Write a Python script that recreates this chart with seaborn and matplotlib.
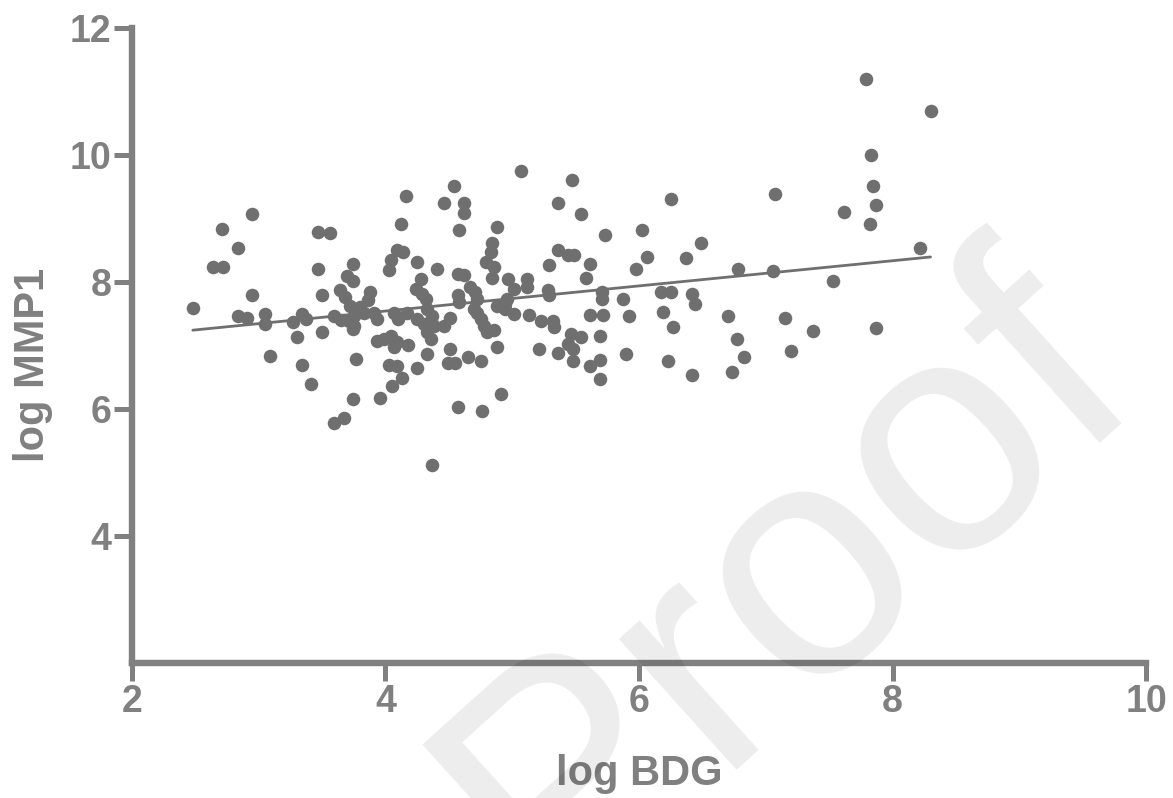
import numpy as np
import pandas as pd
import matplotlib
matplotlib.use("Agg")
import matplotlib.pyplot as plt
from matplotlib import font_manager
import seaborn as sns

# values
bdg = [
    2.48, 2.64, 2.72, 2.71, 2.84, 2.95, 2.95, 2.84, 2.91, 3.05,
    3.05, 3.09, 3.27, 3.30, 3.34, 3.37, 3.34, 3.41, 3.47, 3.56,
    3.47, 3.50, 3.50, 3.59, 3.67, 3.74, 3.77, 3.59, 3.74, 3.70,
    3.74, 3.64, 3.68, 3.88, 3.86, 3.80, 3.83, 3.72, 3.75, 3.71,
    3.75, 3.91, 3.93, 3.65, 3.74, 3.93, 3.99, 4.04, 4.09, 4.07,
    4.18, 4.03, 4.09, 4.25, 4.13, 4.05, 3.96, 4.07, 4.10, 4.17,
    4.25, 4.30, 4.33, 4.16, 4.12, 4.09, 4.14, 4.04, 4.03, 4.25,
    4.41, 4.28, 4.24, 4.29, 4.32, 4.33, 4.37, 4.38, 4.33, 4.36,
    4.54, 4.46, 4.62, 4.62, 4.58, 4.57, 4.62, 4.57, 4.58, 4.51,
    4.46, 4.51, 4.49, 4.55, 4.65, 4.75, 4.57, 4.76, 4.37, 4.67,
    4.71, 4.72, 4.70, 4.72, 4.75, 4.78, 4.80, 4.86, 4.88, 4.91,
    4.88, 4.84, 4.83, 4.79, 4.86, 4.84, 4.97, 5.01, 4.96, 4.88,
    4.94, 4.94, 5.01, 5.07, 5.12, 5.12, 5.13, 5.28, 5.29, 5.23,
    5.32, 5.33, 5.21, 5.36, 5.29, 5.36, 5.44, 5.49, 5.36, 5.47,
    5.54, 5.61, 5.58, 5.73, 5.61, 5.72, 5.71, 5.71, 5.87, 5.92,
    5.44, 5.48, 5.46, 5.54, 5.69, 5.48, 5.61, 5.69, 5.90, 5.69,
    6.02, 6.06, 5.98, 6.25, 6.37, 6.49, 6.17, 6.25, 6.42, 6.44,
    6.19, 6.27, 6.23, 6.42, 6.78, 7.06, 7.07, 7.53, 6.70, 7.15,
    7.37, 6.77, 6.83, 6.73, 7.20, 7.62, 7.79, 7.83, 7.85, 7.87,
    7.82, 8.22, 8.30, 7.87,
]
mmp1 = [
    7.59, 8.24, 8.24, 8.83, 8.54, 9.07, 7.80, 7.46, 7.44, 7.50,
    7.34, 6.83, 7.37, 7.14, 7.50, 7.42, 6.69, 6.40, 8.79, 8.77,
    8.20, 7.80, 7.22, 5.78, 5.86, 6.16, 6.79, 7.47, 8.29, 8.10,
    8.02, 7.87, 7.76, 7.84, 7.71, 7.60, 7.52, 7.63, 7.47, 7.39,
    7.31, 7.52, 7.42, 7.40, 7.26, 7.07, 7.10, 7.15, 7.05, 6.97,
    7.01, 6.70, 6.68, 6.65, 6.49, 6.36, 6.17, 7.52, 7.42, 7.52,
    7.42, 7.34, 6.86, 9.35, 8.92, 8.50, 8.48, 8.34, 8.19, 8.32,
    8.21, 8.05, 7.89, 7.81, 7.73, 7.58, 7.47, 7.31, 7.21, 7.10,
    9.51, 9.24, 9.24, 9.09, 8.82, 8.13, 8.11, 7.79, 7.68, 7.44,
    7.31, 6.94, 6.73, 6.73, 6.82, 6.75, 6.04, 5.97, 5.12, 7.92,
    7.84, 7.73, 7.58, 7.52, 7.42, 7.31, 7.21, 7.24, 6.97, 6.23,
    8.87, 8.61, 8.48, 8.32, 8.24, 8.07, 8.05, 7.89, 7.73, 7.63,
    7.66, 7.58, 7.50, 9.74, 8.05, 7.92, 7.48, 7.87, 7.79, 7.39,
    7.39, 7.29, 6.94, 6.89, 8.27, 8.50, 8.42, 8.42, 9.24, 9.61,
    9.07, 8.29, 8.06, 8.74, 7.48, 7.48, 7.84, 7.73, 7.73, 7.46,
    7.02, 6.94, 7.18, 7.13, 7.15, 6.76, 6.68, 6.78, 6.86, 6.47,
    8.82, 8.40, 8.20, 9.31, 8.38, 8.61, 7.84, 7.84, 7.81, 7.66,
    7.53, 7.29, 6.76, 6.54, 8.21, 8.17, 9.38, 8.02, 7.47, 7.44,
    7.23, 7.10, 6.82, 6.59, 6.92, 9.11, 11.19, 10.00, 9.51, 9.21,
    8.92, 8.54, 10.69, 7.27,
]
x_ticks = [2, 4, 6, 8, 10]
y_ticks = [4, 6, 8, 10, 12]

df = pd.DataFrame({"log BDG": bdg, "log MMP1": mmp1})

GRAY = "#808080"
DOT = "#6f6f6f"

sns.set_style("ticks")
plt.rcParams['font.family'] = ['Liberation Sans', 'DejaVu Sans']
plt.rcParams['font.weight'] = 'bold'

fig = plt.figure(figsize=(11.73, 7.98), dpi=100)
ax = fig.add_axes([0.1125, 0.169, 0.8645, 0.796])

sns.scatterplot(data=df, x="log BDG", y="log MMP1", ax=ax,
                color=DOT, s=95, linewidth=0, zorder=3)
sns.regplot(data=df, x="log BDG", y="log MMP1", ax=ax, scatter=False,
            ci=None, truncate=True, color=DOT,
            line_kws={"linewidth": 2.0, "zorder": 2})

ax.set_xlim(2, 10)
ax.set_ylim(2, 12)
ax.set_xticks(x_ticks)
ax.set_yticks(y_ticks)
sns.despine(ax=ax)
for side in ["left", "bottom"]:
    ax.spines[side].set_linewidth(4.6)
    ax.spines[side].set_color(GRAY)
ax.tick_params(axis="both", length=13, width=3.6, color=GRAY,
               labelcolor=GRAY, labelsize=27, pad=2, direction="out",
               bottom=True, left=True)
for lbl in ax.get_xticklabels() + ax.get_yticklabels():
    lbl.set_fontweight("bold")

ax.set_xlabel("log BDG", fontsize=30, fontweight="bold", color=GRAY)
ax.set_ylabel("log MMP1", fontsize=30, fontweight="bold", color=GRAY)
ax.xaxis.set_label_coords(0.5, -0.143)
ax.yaxis.set_label_coords(-0.078, 0.47)

# watermark, narrow face if there is one
try:
    font_manager.findfont("Liberation Sans Narrow", fallback_to_default=False)
    wm_family, wm_size = "Liberation Sans Narrow", 285
except ValueError:
    wm_family, wm_size = "Liberation Sans", 240
fig.text(0.671, 0.268, "Proof", fontsize=wm_size, family=wm_family,
         fontweight="normal", color="black", alpha=0.075, rotation=42,
         ha="center", va="center", zorder=10)

fig.savefig("out.png", dpi=100)
